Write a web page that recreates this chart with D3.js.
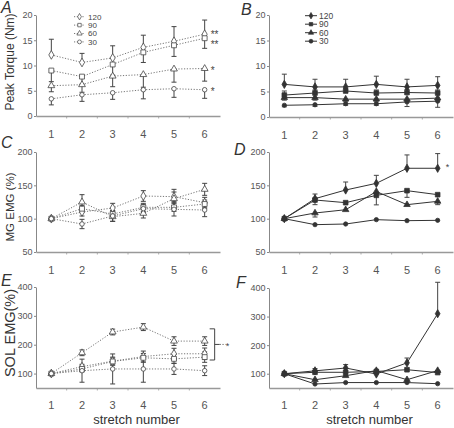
<!DOCTYPE html>
<html><head><meta charset="utf-8">
<script src="https://cdn.jsdelivr.net/npm/d3@7"></script>
<style>
body{margin:0;background:#fff;}
svg{display:block;font-family:"Liberation Sans",Arial,sans-serif;}
</style></head><body>
<svg id="chart" width="454" height="428"></svg>
<script>
// ---------- data ----------
const stretches = [1, 2, 3, 4, 5, 6];
const velocities = ["120", "90", "60", "30"];
const ticksTorque = [0, 5, 10, 15, 20];
const ticksMG = [50, 100, 150, 200];
const ticksSOL = [100, 200, 300, 400];

// A: peak torque (dotted)
const torqueA120 = [12.1, 10.6, 11.5, 13.6, 14.8, 16.2];
const torqueA90  = [9.0, 7.8, 10.2, 12.6, 14.0, 15.4];
const torqueA60  = [6.0, 6.2, 7.9, 8.2, 9.3, 9.4];
const torqueA30  = [3.4, 4.2, 4.6, 5.2, 5.4, 5.2];
const errA120 = [3.1, 1.8, 2.4, 2.4, 2.9, 2.8];
const errA90  = [2.2, 1.5, 2.1, 2.0, 2.2, 2.0];
const errA60  = [1.2, 1.5, 2.1, 2.5, 2.6, 2.5];
const errA30  = [1.2, 1.3, 1.3, 1.8, 1.7, 1.7];

// B: peak torque (solid)
const torqueB120 = [6.4, 5.9, 5.9, 6.4, 5.9, 6.2];
const torqueB90  = [4.3, 4.7, 5.1, 4.7, 4.8, 4.7];
const torqueB60  = [3.8, 3.8, 3.5, 3.5, 3.5, 3.7];
const torqueB30  = [2.3, 2.4, 2.6, 2.6, 2.95, 3.1];
const errB120 = [2.0, 1.5, 1.5, 1.6, 1.5, 1.7];
const errB90  = [0.8, 0.6, 0.5, 0.6, 0.6, 0.6];
const errB60  = [0.5, 0.5, 0.4, 0.4, 0.5, 0.5];
const errB30  = [0.3, 0.3, 0.3, 0.3, 0.9, 1.2];

// C: MG EMG (dotted)
const mgC120 = [100, 110, 116, 134, 133, 124];
const mgC90  = [100, 115, 107, 117, 117, 122];
const mgC60  = [100, 125, 103, 108, 130, 144];
const mgC30  = [100, 92, 104, 115, 114, 113];
const errC120 = [0, 6, 7, 8, 7, 8];
const errC90  = [0, 5, 5, 6, 6, 6];
const errC60  = [0, 11, 7, 7, 14, 9];
const errC30  = [0, 7, 8, 6, 10, 10];

// D: MG EMG (solid)
const mgD120 = [100, 130, 143, 153, 175.6, 175.6];
const mgD90  = [100, 128, 124, 135, 142, 136];
const mgD60  = [100, 108.5, 113.4, 140.7, 121, 126];
const mgD30  = [100, 91, 92, 98.5, 97, 97.5];
const errD120 = [0, 7, 12, 12, 20, 22];
const errD90  = [0, 7, 0, 0, 10, 0];
const errD60  = [0, 6, 0, 20, 0, 5];
const errD30  = [0, 0, 0, 0, 0, 0];

// E: SOL EMG (dotted)
const solE120 = [100, 124, 143, 159, 168.6, 168.6];
const solE90  = [100, 116, 142, 154.7, 151, 157];
const solE60  = [100, 172, 244, 261, 212.5, 212.5];
const solE30  = [100, 110, 116, 116, 116, 110];
const errE120 = [0, 8, 14, 19, 19, 20];
const errE90  = [0, 10, 12, 15, 15, 18];
const errE60  = [0, 10, 10, 12, 15, 15];
const errE30  = [0, 40, 52, 46, 19, 17];

// F: SOL EMG (solid)
const solF120 = [100, 110, 120, 99, 138, 310];
const solF90  = [100, 105, 105, 108, 114, 104];
const solF60  = [100, 79, 93, 111, 79, 111];
const solF30  = [100, 64, 69, 69, 69, 65];
const errF120 = [0, 8, 12, 0, 17, 110];
const errF90  = [0, 0, 0, 0, 0, 0];
const errF60  = [0, 0, 0, 0, 0, 0];
const errF30  = [0, 0, 0, 0, 0, 0];

// ---------- drawing ----------
const svg = d3.select("#chart");
const symbols = [d3.symbolDiamond, d3.symbolSquare, d3.symbolTriangle, d3.symbolCircle];
const symSize = [22, 24, 20, 16];

const panels = [
  {letter: "A", lx: 1, ly: 13, x0: 36, x1: 220, yTop: 15, yBot: 116, domain: [0, 20], ticks: ticksTorque,
   dotted: true, vals: [torqueA120, torqueA90, torqueA60, torqueA30], errs: [errA120, errA90, errA60, errA30],
   dirs: ["up", "down", "down", "down"], title: "Peak Torque (Nm)", titleSize: 12, titleX: 13.5, titleY: 62,
   legend: {x0: 74, x1: 85, tx: 88, y0: 16.7, dy: 8.4, fs: 8},
   stars: [{s: 0, t: "**", off: -1.5}, {s: 1, t: "**", off: 4.5}, {s: 2, t: "*", off: 0}, {s: 3, t: "*", off: 0}], starX: 6, starFs: 10},
  {letter: "B", lx: 241, ly: 15, x0: 269, x1: 453, yTop: 15, yBot: 117, domain: [0, 20], ticks: ticksTorque,
   dotted: false, vals: [torqueB120, torqueB90, torqueB60, torqueB30], errs: [errB120, errB90, errB60, errB30],
   dirs: ["up", "up", "down", "down"],
   legend: {x0: 305, x1: 317, tx: 319, y0: 15.7, dy: 8.5, fs: 8.5}},
  {letter: "C", lx: 1, ly: 148, x0: 36, x1: 220, yTop: 152, yBot: 252, domain: [50, 200], ticks: ticksMG,
   dotted: true, vals: [mgC120, mgC90, mgC60, mgC30], errs: [errC120, errC90, errC60, errC30],
   dirs: ["both", "both", "both", "both"], title: "MG EMG (%)", titleSize: 11.5, titleX: 13.5, titleY: 207},
  {letter: "D", lx: 234, ly: 155, x0: 269, x1: 453, yTop: 152, yBot: 252, domain: [50, 200], ticks: ticksMG,
   dotted: false, vals: [mgD120, mgD90, mgD60, mgD30], errs: [errD120, errD90, errD60, errD30],
   dirs: ["up", "down", "down", "down"],
   stars: [{s: 0, t: "*", off: -3.5}], starX: 8, starFs: 9},
  {letter: "E", lx: 1, ly: 286, x0: 36, x1: 220, yTop: 287, yBot: 388, domain: [50, 400], ticks: ticksSOL,
   dotted: true, vals: [solE120, solE90, solE60, solE30], errs: [errE120, errE90, errE60, errE30],
   dirs: ["both", "both", "both", "both"], title: "SOL EMG(%)", titleSize: 14.5, titleX: 14.5, titleY: 333,
   xTitle: true, bracket: true, xPad: 13.5},
  {letter: "F", lx: 236, ly: 288, x0: 269, x1: 453, yTop: 288, yBot: 388, domain: [50, 400], ticks: ticksSOL,
   dotted: false, vals: [solF120, solF90, solF60, solF30], errs: [errF120, errF90, errF60, errF30],
   dirs: ["up", "up", "up", "up"], xTitle: true, xPad: 13.5}
];

panels.forEach(p => {
  const g = svg.append("g");
  const x = d3.scaleBand().domain(stretches).range([p.x0, p.x1]).padding(0);
  const xc = d => x(d) + x.bandwidth() / 2;
  const y = d3.scaleLinear().domain(p.domain).range([p.yBot, p.yTop]);

  // y axis
  const ya = g.append("g").attr("transform", `translate(${p.x0},0)`)
    .call(d3.axisLeft(y).tickValues(p.ticks).tickSize(2).tickPadding(1.5).tickSizeOuter(0));
  ya.select(".domain").attr("stroke", "#888").attr("stroke-width", 1);
  ya.selectAll(".tick line").attr("stroke", "#888");
  ya.selectAll(".tick text").attr("fill", "#555").style("font-size", "9px").style("font-family", "Liberation Sans, Arial, sans-serif");

  // x axis: labels through axisBottom, band boundary minor ticks
  const xa = g.append("g").attr("transform", `translate(0,${p.yBot})`)
    .call(d3.axisBottom(x).tickSize(0).tickPadding(p.xPad || 14.5));
  xa.select(".domain").attr("stroke", "#999").attr("stroke-width", 1.3);
  xa.selectAll(".tick text").attr("fill", "#555").style("font-size", "11px").style("font-family", "Liberation Sans, Arial, sans-serif");
  g.selectAll(".mt").data(stretches.slice(1)).join("line")
    .attr("x1", d => x(d)).attr("x2", d => x(d))
    .attr("y1", p.yBot).attr("y2", p.yBot + 2.5)
    .attr("stroke", "#999").attr("stroke-width", 0.8);

  const line = d3.line().x((d, i) => xc(stretches[i])).y(d => y(d));
  const stroke = p.dotted ? "#777" : "#333";

  // lines
  p.vals.forEach(v => {
    g.append("path").attr("d", line(v)).attr("fill", "none")
      .attr("stroke", stroke).attr("stroke-width", 1)
      .attr("stroke-dasharray", p.dotted ? "1.2,1.6" : null);
  });

  // error bars
  p.vals.forEach((v, s) => {
    const e = p.errs[s], dir = p.dirs[s];
    v.forEach((val, i) => {
      if (!e[i]) return;
      const lo = dir === "up" ? val : val - e[i];
      const hi = dir === "down" ? val : val + e[i];
      const cx = xc(stretches[i]);
      g.append("line").attr("x1", cx).attr("x2", cx).attr("y1", y(lo)).attr("y2", y(hi))
        .attr("stroke", "#444").attr("stroke-width", 1);
      const caps = [];
      if (dir !== "down") caps.push(hi);
      if (dir !== "up") caps.push(lo);
      caps.forEach(c => g.append("line").attr("x1", cx - 2.5).attr("x2", cx + 2.5)
        .attr("y1", y(c)).attr("y2", y(c)).attr("stroke", "#444").attr("stroke-width", 1));
    });
  });

  // markers
  p.vals.forEach((v, s) => {
    g.selectAll(null).data(v).join("path")
      .attr("transform", (d, i) => `translate(${xc(stretches[i])},${y(d)})`)
      .attr("d", d3.symbol().type(symbols[s]).size(p.dotted ? symSize[s] : symSize[s] * 0.9))
      .attr("fill", p.dotted ? "#fff" : "#333")
      .attr("stroke", p.dotted ? "#444" : "#333").attr("stroke-width", 0.8);
  });

  // panel letter
  svg.append("text").attr("x", p.lx).attr("y", p.ly).text(p.letter)
    .attr("font-style", "italic").attr("font-size", 16).attr("fill", "#333");

  // y title
  if (p.title) {
    svg.append("text").attr("transform", `translate(${p.titleX},${p.titleY}) rotate(-90)`)
      .attr("text-anchor", "middle").attr("font-size", p.titleSize).attr("fill", "#333").text(p.title);
  }
  if (p.xTitle) {
    svg.append("text").attr("x", (p.x0 + p.x1) / 2 + 8.5).attr("y", p.yBot + 35.5)
      .attr("text-anchor", "middle").attr("font-size", 13).attr("fill", "#333").text("stretch number");
  }

  // legend
  if (p.legend) {
    const L = p.legend;
    velocities.forEach((vel, s) => {
      const ly = L.y0 + s * L.dy;
      g.append("line").attr("x1", L.x0).attr("x2", L.x1).attr("y1", ly).attr("y2", ly)
        .attr("stroke", stroke).attr("stroke-dasharray", p.dotted ? "1.2,1.6" : null);
      g.append("path").attr("transform", `translate(${(L.x0 + L.x1) / 2},${ly})`)
        .attr("d", d3.symbol().type(symbols[s]).size(12))
        .attr("fill", p.dotted ? "#fff" : "#333").attr("stroke", p.dotted ? "#444" : "#333").attr("stroke-width", 0.7);
      g.append("text").attr("x", L.tx).attr("y", ly).attr("dy", "0.35em")
        .attr("font-size", L.fs).attr("fill", "#444").text(vel);
    });
  }

  // significance stars
  if (p.stars) {
    p.stars.forEach(st => {
      const v = p.vals[st.s][5];
      g.append("text").attr("x", xc(6) + p.starX).attr("y", y(v) + st.off + p.starFs * 0.55)
        .attr("font-size", p.starFs).attr("fill", "#444").text(st.t);
    });
  }

  // bracket in E
  if (p.bracket) {
    const bx = xc(6) + 10, yt = y(255), yb = y(147), ym = (yt + yb) / 2;
    g.append("path").attr("d", `M${bx - 5},${yt}H${bx}V${yb}H${bx - 5}`)
      .attr("fill", "none").attr("stroke", "#444").attr("stroke-width", 1);
    g.append("line").attr("x1", bx).attr("x2", bx + 5).attr("y1", ym).attr("y2", ym)
      .attr("stroke", "#444");
    g.append("line").attr("x1", bx + 5).attr("x2", bx + 11).attr("y1", ym).attr("y2", ym)
      .attr("stroke", "#666").attr("stroke-dasharray", "1.2,1.6");
    g.append("text").attr("x", bx + 11).attr("y", ym + 5).attr("font-size", 9).attr("fill", "#444").text("*");
  }
});
</script>
</body></html>
